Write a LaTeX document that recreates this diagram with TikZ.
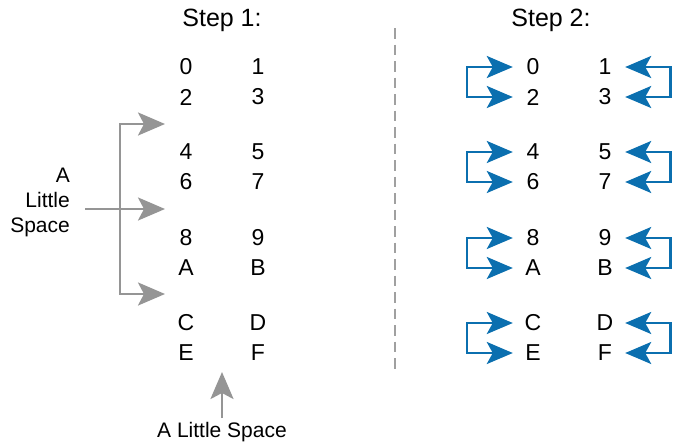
\documentclass[tikz,border=0pt]{standalone}
\usepackage{fontspec}
\setmainfont{Liberation Sans}
\usetikzlibrary{arrows.meta}
\definecolor{gr}{HTML}{959595}
\definecolor{dg}{HTML}{A0A0A0}
\definecolor{bl}{HTML}{0B6FAF}
\begin{document}
\begin{tikzpicture}[x=1pt,y=-1pt,
  txt/.style={font=\fontsize{21}{25}\selectfont, inner sep=0pt},
  head/.style={font=\fontsize{25}{29}\selectfont, inner sep=0pt},
  dig/.style={font=\fontsize{23}{27}\selectfont, inner sep=0pt, minimum width=40pt, minimum height=20pt},
  garrow/.style={draw=gr, line width=2.8pt, -{Stealth[length=27pt,width=23pt,inset=6pt]}},
  gbr/.style={draw=gr, line width=2.8pt, {Stealth[length=27pt,width=23pt,inset=6pt]}-{Stealth[length=27pt,width=23pt,inset=6pt]}},
  bbr/.style={draw=bl, line width=2.6pt, {Stealth[length=26pt,width=22pt,inset=6pt]}-{Stealth[length=26pt,width=22pt,inset=6pt]}}
]
\useasboundingbox (0,0) rectangle (673,445);
\node[head] (s1) at (222,20) {Step 1:};
\node[head] (s2) at (551,20) {Step 2:};
\foreach \l/\r/\y/\i in {0/1/67/a,2/3/97/b,4/5/152/c,6/7/182/d,8/9/238/e,A/B/268/f,C/D/323/g,E/F/353/h}{
  \node[dig] (L\i) at (186,\y) {\l};
  \node[dig] (R\i) at (258,\y) {\r};
  \node[dig] (P\i) at (533,\y) {\l};
  \node[dig] (Q\i) at (605,\y) {\r};
}
% dashed separator
\coordinate (dtop) at (395,28);
\coordinate (dbot) at (395,370);
\draw[dg, line width=2.2pt, dash pattern=on 10.5pt off 6pt] (dtop) -- (dbot);
% blue brackets
\foreach \a/\b in {a/b,c/d,e/f,g/h}{
  \draw[bbr] (P\a.west) -- ++(-46,0) |- (P\b.west);
  \draw[bbr] (Q\a.east) -- ++(45,0) |- (Q\b.east);
}
% gray left bracket
\coordinate (gt) at (165,124);
\coordinate (gb) at (165,294);
\coordinate (gm) at (165,209);
\coordinate (gs) at (85,209);
\draw[gbr] (gt) -- ++(-45,0) -- ++(0,170) -- (gb);
\draw[garrow] (gs) -- (gm);
\node[txt, align=right, anchor=east] (lbl1) at (70,202) {A\\Little\\Space};
% bottom arrow
\node[txt] (lbl2) at (222,432) {A Little Space};
\coordinate (bt) at (222,372);
\draw[garrow, shorten <=4pt] (lbl2.north) -- (bt);
\end{tikzpicture}
\end{document}
